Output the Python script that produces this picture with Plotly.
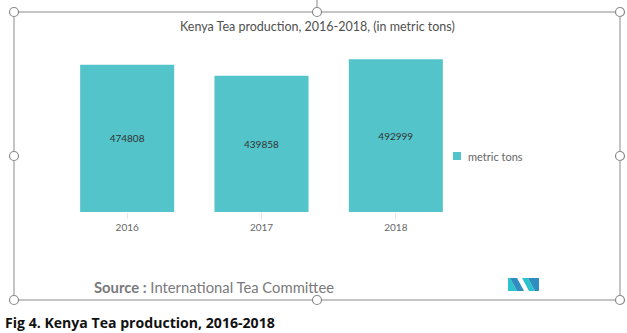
import plotly.graph_objects as go

# Kenya tea production by year (metric tons)
years = ["2016", "2017", "2018"]
production = [474808, 439858, 492999]
series_name = "metric tons"

W, H = 627, 333
BAR_COLOR = "#52C4CA"
FRAME = "#8a8a8a"


def px(x):
    return x / W


def py(y):
    return (H - y) / H


fig = go.Figure()
fig.add_trace(go.Bar(
    x=years,
    y=production,
    name=series_name,
    marker=dict(color=BAR_COLOR, line=dict(width=0)),
    width=0.7,
    text=[str(v) for v in production],
    textposition="inside",
    insidetextanchor="middle",
    textfont=dict(family="Lato", size=10, color="#333333"),
    showlegend=False,
))

shapes = []
# selection frame around the chart object
shapes.append(dict(type="rect", xref="paper", yref="paper",
                   x0=px(14), x1=px(620), y0=py(300), y1=py(12),
                   line=dict(color=FRAME, width=1), fillcolor="rgba(0,0,0,0)", layer="above"))
# rotation stem
shapes.append(dict(type="line", xref="paper", yref="paper",
                   x0=px(317), x1=px(317), y0=py(0), y1=py(12),
                   line=dict(color=FRAME, width=1)))
# resize handles
r = 4.5
for hx, hy in [(14, 12), (317, 12), (620, 12), (14, 156), (620, 156),
               (14, 300), (317, 300), (620, 300)]:
    shapes.append(dict(type="circle", xref="paper", yref="paper",
                       x0=px(hx - r), x1=px(hx + r), y0=py(hy + r), y1=py(hy - r),
                       line=dict(color=FRAME, width=1.2), fillcolor="white", layer="above"))

# legend swatch for the single series
shapes.append(dict(type="rect", xref="paper", yref="paper",
                   x0=px(453), x1=px(461), y0=py(160), y1=py(152),
                   fillcolor=BAR_COLOR, line=dict(width=0)))

# small logo made of slanted bands
logo = [
    ([(508, 278), (510, 278), (517, 291), (508, 291)], "#2DC3CC"),
    ([(510, 278), (517, 278), (524, 291), (517, 291)], "#2F8DC0"),
    ([(522, 278), (528, 278), (535, 291), (529, 291)], "#2DC3CC"),
    ([(528, 278), (539, 278), (539, 291), (535, 291)], "#2F8DC0"),
]
for coords, col in logo:
    d = "M " + " L ".join(f"{px(x)} {py(y)}" for x, y in coords) + " Z"
    shapes.append(dict(type="path", xref="paper", yref="paper", path=d,
                       fillcolor=col, line=dict(width=0)))

annotations = [
    dict(text="Kenya Tea production, 2016-2018, (in metric tons)",
         x=px(317), y=py(26), xref="paper", yref="paper", showarrow=False,
         xanchor="center", yanchor="middle",
         font=dict(family="Lato", size=12.5, color="#505050")),
    dict(text=series_name,
         x=px(466), y=py(156), xref="paper", yref="paper", showarrow=False,
         xanchor="left", yanchor="middle",
         font=dict(family="Lato", size=11, color="#666666")),
    dict(text="<b>Source :</b> International Tea Committee",
         x=px(92), y=py(287), xref="paper", yref="paper", showarrow=False,
         xanchor="left", yanchor="middle",
         font=dict(family="Lato", size=14.8, color="#7a7a7a")),
    dict(text="<b>Fig 4. Kenya Tea production, 2016-2018</b>",
         x=px(3), y=py(322), xref="paper", yref="paper", showarrow=False,
         xanchor="left", yanchor="middle",
         font=dict(family="Open Sans", size=14.1, color="#111111")),
]

fig.update_layout(
    width=W, height=H,
    margin=dict(l=0, r=0, t=0, b=0),
    paper_bgcolor="white", plot_bgcolor="white",
    bargap=0.3,
    xaxis=dict(domain=[px(60), px(463)], showgrid=False, zeroline=False,
               showline=False, ticks="outside", ticklen=6, tickwidth=1,
               tickcolor="#e6e6e6",
               tickfont=dict(family="Lato", size=10, color="#666666")),
    yaxis=dict(domain=[py(212), py(41.5)], range=[0, 550000], visible=False,
               showgrid=False, zeroline=False),
    shapes=shapes,
    annotations=annotations,
    showlegend=False,
)

fig.write_html("out.html")
